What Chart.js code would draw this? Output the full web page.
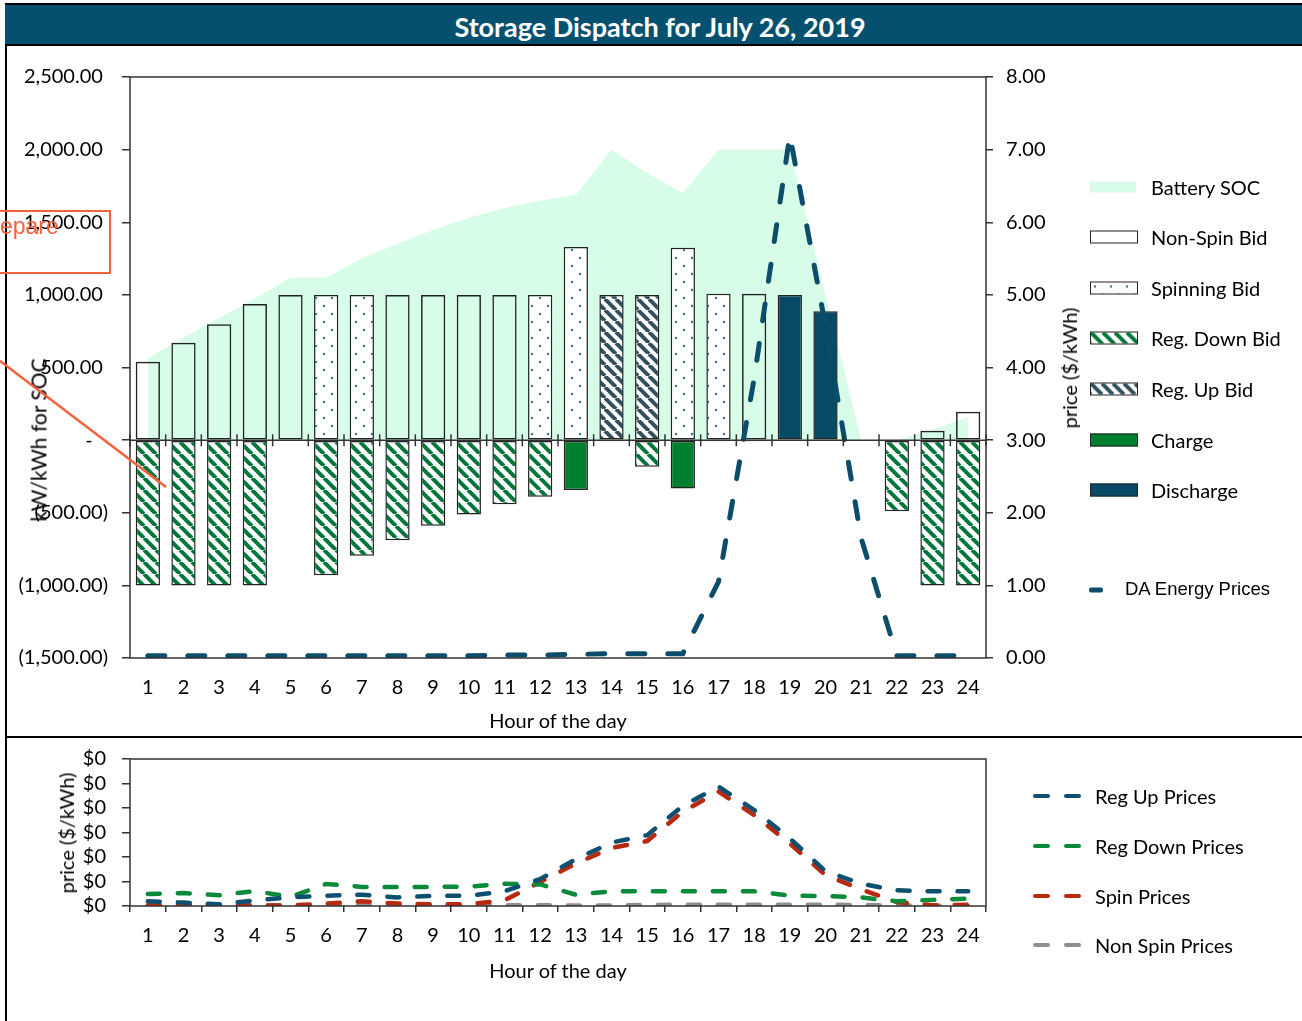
<!DOCTYPE html>
<html>
<head>
<meta charset="utf-8">
<script src="https://cdn.jsdelivr.net/npm/chart.js@4.4.0/dist/chart.umd.min.js"></script>
<style>
  body { margin: 0; background: #fff; font-family: Lato, sans-serif; }
  #page { position: relative; width: 1302px; height: 1021px; overflow: hidden; }
  #frameLeft { position: absolute; left: 5px; top: 3px; width: 2px; height: 1018px; background: #000; }
  #titleBar { position: absolute; left: 5px; top: 3px; width: 1297px; height: 39px; background: #05506f;
              border-top: 2px solid #000; border-bottom: 2px solid #000; }
  #title { position: absolute; left: 660px; top: 26px; transform: translate(-50%, -50%);
           color: #fff; font: bold 27px Lato, sans-serif; white-space: nowrap; }
  #sep { position: absolute; left: 5px; top: 736px; width: 1297px; height: 2px; background: #000; }
  canvas { position: absolute; left: 0; }
  #topChart { top: 46px; }
  #bottomChart { top: 731px; }
  .txt { position: absolute; font-size: 20px; color: #000; white-space: nowrap; transform: translateY(-50%); }
  .ctr { position: absolute; font-size: 20px; color: #000; white-space: nowrap; transform: translate(-50%, -50%); }
  .rot { position: absolute; font-size: 20px; color: #000; white-space: nowrap; transform: translate(-50%, -50%) rotate(-90deg); }
  .sw { position: absolute; left: 1090px; width: 46px; height: 11px; transform: translateY(-50%); }
  .dash { position: absolute; height: 4px; border-radius: 2px; transform: translateY(-50%); }
  #note { position: absolute; left: -3px; top: 210px; width: 110px; height: 60px; border: 2px solid #f5603c; }
  #noteText { position: absolute; left: 0; top: 226px; color: #f5603c; font: 23px "Liberation Sans", sans-serif; transform: translateY(-50%); }
  svg { position: absolute; left: 0; top: 0; }
</style>
</head>
<body>
<div id="page">
  <canvas id="topChart" width="1302" height="689"></canvas>
  <canvas id="bottomChart" width="1302" height="290"></canvas>

  <div id="frameLeft"></div>
  <div id="titleBar"></div>
  <div id="title">Storage Dispatch for July 26, 2019</div>
  <div id="sep"></div>

  <div class="rot" style="left:38px; top:440px; font-size:21px;">kW/kWh for SOC</div>
  <div class="rot" style="left:1069px; top:368px;">price ($/kWh)</div>
  <div class="ctr" style="left:558px; top:720px;">Hour of the day</div>
  <div class="rot" style="left:66px; top:833px;">price ($/kWh)</div>
  <div class="ctr" style="left:558px; top:970px;">Hour of the day</div>

  <div id="legendTop"></div>
  <div id="legendBottom"></div>

  <div id="note"></div>
  <div id="noteText">epare</div>
  <svg width="1302" height="1021"><line x1="0" y1="361" x2="166" y2="487" stroke="#f5603c" stroke-width="2.5"/></svg>
</div>

<script>
const hours = ["1","2","3","4","5","6","7","8","9","10","11","12","13","14","15","16","17","18","19","20","21","22","23","24"];

// kW / kWh (left axis)
const batterySoc = [565, 705, 840, 975, 1118, 1118, 1253, 1350, 1446, 1529, 1598, 1650, 1687, 2000, 1839, 1701, 2000, 2000, 2000, 1000, 0, 0, 70, 160];
const nonSpinBid = [540, 670, 797, 937, 1000, null, null, 1000, 1000, 1000, 1000, null, null, null, null, null, null, 1008, null, null, null, null, 64, 195];
const spinningBid = [null, null, null, null, null, 1000, 1000, null, null, null, null, 1000, 1330, null, null, 1325, 1008, null, null, null, null, null, null, null];
const regUpBid = [null, null, null, null, null, null, null, null, null, null, null, null, null, 1000, 1000, null, null, null, null, null, null, null, null, null];
const discharge = [null, null, null, null, null, null, null, null, null, null, null, null, null, null, null, null, null, null, 1000, 888, null, null, null, null];
const regDownBid = [-1000, -1000, -1000, -1000, null, -930, -796, -689, -590, -512, -441, -390, null, -8, -184, null, -8, -8, null, null, null, -489, -1000, -1000];
const charge = [null, null, null, null, null, null, null, null, null, null, null, null, -344, null, null, -333, null, null, null, null, null, null, null, null];

// $/kWh (right axis)
const daEnergyPrice = [0.03, 0.03, 0.03, 0.03, 0.03, 0.03, 0.03, 0.03, 0.03, 0.03, 0.04, 0.04, 0.05, 0.06, 0.06, 0.06, 1.05, 3.85, 7.2, 4.57, 1.65, 0.03, 0.03, 0.03];

// lower panel, $/kWh
const regUpPrice = [0.0019, 0.0014, 0.0007, 0.0023, 0.0035, 0.0042, 0.0046, 0.0035, 0.0041, 0.0042, 0.006, 0.011, 0.0191, 0.0259, 0.0289, 0.0409, 0.0487, 0.0392, 0.0276, 0.0142, 0.0091, 0.0064, 0.006, 0.006];
const regDownPrice = [0.0049, 0.0053, 0.0044, 0.0061, 0.0037, 0.009, 0.0078, 0.0078, 0.0078, 0.0079, 0.0091, 0.0088, 0.0046, 0.006, 0.006, 0.006, 0.006, 0.006, 0.0042, 0.0041, 0.0035, 0.0019, 0.0025, 0.003];
const spinPrice = [0.0002, 0.0002, 0.0002, 0.0002, 0.0002, 0.001, 0.0019, 0.001, 0.0007, 0.0007, 0.0023, 0.0098, 0.0173, 0.0237, 0.0265, 0.0385, 0.0467, 0.0371, 0.0255, 0.0126, 0.0068, 0.0016, 0.0003, 0.0005];
const nonSpinPrice = [0.0003, 0.0003, 0.0003, 0.0003, 0.0003, 0.0003, 0.0003, 0.0003, 0.0003, 0.0003, 0.0003, 0.0003, 0.0002, 0.0002, 0.0004, 0.0005, 0.0005, 0.0005, 0.0005, 0.0005, 0.0004, 0.0002, 0.0001, 0.0001];

const mint = "#d7fce8";
const teal = "#064a66";
const green = "#00802f";
const edge = "#222";

Chart.defaults.font.family = "Lato, sans-serif";
Chart.defaults.font.size = 20;
Chart.defaults.color = "#000";

function makeTile(size, draw) {
  const c = document.createElement("canvas");
  c.width = size;
  c.height = size;
  draw(c.getContext("2d"), size);
  return c;
}

const dotTile = makeTile(16, (g, s) => {
  g.fillStyle = "#fff";
  g.fillRect(0, 0, s, s);
  g.fillStyle = "#2f6f9f";
  [[4, 4], [12, 12]].forEach(([px, py]) => {
    g.beginPath();
    g.arc(px, py, 1.2, 0, Math.PI * 2);
    g.fill();
  });
});

function stripeTile(size, color, width) {
  return makeTile(size, (g, s) => {
    g.fillStyle = "#fff";
    g.fillRect(0, 0, s, s);
    g.strokeStyle = color;
    g.lineWidth = width;
    g.beginPath();
    for (let k = -1; k <= 1; k++) {
      g.moveTo(k * s, 0);
      g.lineTo(k * s + s, s);
    }
    g.stroke();
  });
}
const downTile = stripeTile(12, "#00773a", 4);
const upTile = stripeTile(11, "#34505f", 4);

const topCanvas = document.getElementById("topChart");
const tctx = topCanvas.getContext("2d");
const dotPattern = tctx.createPattern(dotTile, "repeat");
const downPattern = tctx.createPattern(downTile, "repeat");
const upPattern = tctx.createPattern(upTile, "repeat");

// plot frame drawn round the chart area
const frame = {
  id: "frame",
  afterDatasetsDraw(chart) {
    const { ctx, chartArea: a } = chart;
    ctx.save();
    ctx.strokeStyle = "#333";
    ctx.lineWidth = 1.5;
    ctx.strokeRect(a.left, a.top, a.right - a.left, a.bottom - a.top);
    ctx.restore();
  }
};

// category axis crossing at zero with cross tick marks
const zeroAxis = {
  id: "zeroAxis",
  afterDatasetsDraw(chart) {
    const { ctx, chartArea: a, scales } = chart;
    const y0 = scales.y.getPixelForValue(0);
    ctx.save();
    ctx.strokeStyle = "#333";
    ctx.lineWidth = 1.5;
    ctx.beginPath();
    ctx.moveTo(a.left, y0);
    ctx.lineTo(a.right, y0);
    for (let i = 0; i <= hours.length; i++) {
      const px = scales.x.getPixelForValue(i - 0.5);
      ctx.moveTo(px, y0 - 6);
      ctx.lineTo(px, y0 + 6);
    }
    ctx.stroke();
    ctx.restore();
  }
};

function socLabel(v) {
  if (v === 0) return "-   ";
  const s = Math.abs(v).toLocaleString("en-US", { minimumFractionDigits: 2, maximumFractionDigits: 2 });
  return v < 0 ? "(" + s + ")" : s + " ";
}

const barBase = {
  type: "bar",
  borderColor: edge,
  borderWidth: 1.5,
  borderSkipped: false,
  barPercentage: 0.68,
  categoryPercentage: 1,
  order: 2
};

new Chart(tctx, {
  type: "bar",
  data: {
    labels: hours,
    datasets: [
      { type: "line", label: "Battery SOC", data: batterySoc, stack: "soc", fill: "origin",
        backgroundColor: mint, borderWidth: 0, pointRadius: 0, order: 3 },
      { ...barBase, label: "Non-Spin Bid", data: nonSpinBid, backgroundColor: "rgba(0,0,0,0)" },
      { ...barBase, label: "Spinning Bid", data: spinningBid, backgroundColor: dotPattern },
      { ...barBase, label: "Reg. Down Bid", data: regDownBid, backgroundColor: downPattern },
      { ...barBase, label: "Reg. Up Bid", data: regUpBid, backgroundColor: upPattern },
      { ...barBase, label: "Charge", data: charge, backgroundColor: green },
      { ...barBase, label: "Discharge", data: discharge, backgroundColor: teal },
      { type: "line", label: "DA Energy Prices", data: daEnergyPrice, yAxisID: "y1", stack: "price",
        borderColor: "#0b4d6b", borderWidth: 5, borderDash: [17, 23], borderCapStyle: "round",
        pointRadius: 0, tension: 0, fill: false, order: 1 }
    ]
  },
  options: {
    responsive: false,
    animation: false,
    events: [],
    layout: { padding: { top: 31, left: 0, right: 0, bottom: 0 } },
    plugins: { legend: { display: false }, tooltip: { enabled: false } },
    scales: {
      x: {
        stacked: true,
        grid: { display: false, drawTicks: false },
        border: { display: false },
        ticks: { padding: 18, maxRotation: 0, autoSkip: false },
        afterFit: s => { s.height = 77; }
      },
      y: {
        stacked: true,
        min: -1500,
        max: 2500,
        ticks: { stepSize: 500, padding: 14, autoSkip: false, callback: v => socLabel(v) },
        grid: { drawOnChartArea: false, tickLength: 8, color: "#333", lineWidth: 1.5 },
        border: { display: false },
        afterFit: s => { s.width = 130; }
      },
      y1: {
        position: "right",
        min: 0,
        max: 8,
        ticks: { stepSize: 1, padding: 13, autoSkip: false, callback: v => v.toFixed(2) },
        grid: { drawOnChartArea: false, tickLength: 7, color: "#333", lineWidth: 1.5 },
        border: { display: false },
        afterFit: s => { s.width = 316; }
      }
    }
  },
  plugins: [frame, zeroAxis]
});

const priceLine = (label, data, color) => ({
  label, data, borderColor: color, borderWidth: 4.5, borderDash: [12, 18], borderCapStyle: "round",
  pointRadius: 0, tension: 0, fill: false
});

new Chart(document.getElementById("bottomChart"), {
  type: "line",
  data: {
    labels: hours,
    datasets: [
      priceLine("Reg Up Prices", regUpPrice, "#0d5070"),
      priceLine("Reg Down Prices", regDownPrice, "#0b8a3a"),
      priceLine("Spin Prices", spinPrice, "#b8290f"),
      priceLine("Non Spin Prices", nonSpinPrice, "#8f8f8f")
    ]
  },
  options: {
    responsive: false,
    animation: false,
    events: [],
    layout: { padding: { top: 28, left: 0, right: 316, bottom: 0 } },
    plugins: { legend: { display: false }, tooltip: { enabled: false } },
    scales: {
      x: {
        offset: true,
        grid: { offset: true, drawOnChartArea: false, tickLength: 6, color: "#333", lineWidth: 1.5 },
        border: { display: false },
        ticks: { padding: 12, maxRotation: 0, autoSkip: false },
        afterFit: s => { s.height = 115; }
      },
      y: {
        min: 0,
        max: 0.06,
        ticks: { stepSize: 0.01, padding: 16, autoSkip: false, callback: v => "$" + v.toFixed(0) },
        grid: { drawOnChartArea: false, tickLength: 8, color: "#333", lineWidth: 1.5 },
        border: { display: false },
        afterFit: s => { s.width = 130; }
      }
    }
  },
  plugins: [frame]
});

// legends
const topItems = [
  { label: "Battery SOC", css: { background: mint } },
  { label: "Non-Spin Bid", css: { background: "#fff", border: "1.5px solid " + edge } },
  { label: "Spinning Bid", css: { backgroundImage: "url(" + dotTile.toDataURL() + ")", border: "1.5px solid " + edge } },
  { label: "Reg. Down Bid", css: { backgroundImage: "url(" + downTile.toDataURL() + ")", border: "1.5px solid " + edge } },
  { label: "Reg. Up Bid", css: { backgroundImage: "url(" + upTile.toDataURL() + ")", border: "1.5px solid " + edge } },
  { label: "Charge", css: { background: green, border: "1.5px solid " + edge } },
  { label: "Discharge", css: { background: teal, border: "1.5px solid " + edge } }
];
const topRows = [187, 237, 288, 338, 389, 440, 490];
const legendTop = document.getElementById("legendTop");
topItems.forEach((item, i) => {
  const sw = document.createElement("div");
  sw.className = "sw";
  sw.style.top = topRows[i] + "px";
  Object.assign(sw.style, item.css);
  legendTop.appendChild(sw);
  const t = document.createElement("div");
  t.className = "txt";
  t.style.left = "1151px";
  t.style.top = topRows[i] + "px";
  t.textContent = item.label;
  legendTop.appendChild(t);
});
const daSw = document.createElement("div");
daSw.className = "dash";
Object.assign(daSw.style, { left: "1089px", top: "590px", width: "14px", height: "5px", background: "#0b4d6b" });
legendTop.appendChild(daSw);
const daTxt = document.createElement("div");
daTxt.className = "txt";
Object.assign(daTxt.style, { left: "1125px", top: "589px", font: "18.5px 'Liberation Sans', sans-serif" });
daTxt.textContent = "DA Energy Prices";
legendTop.appendChild(daTxt);

const bottomItems = [
  ["Reg Up Prices", "#0d5070"],
  ["Reg Down Prices", "#0b8a3a"],
  ["Spin Prices", "#b8290f"],
  ["Non Spin Prices", "#8f8f8f"]
];
const bottomRows = [796, 846, 896, 945];
const legendBottom = document.getElementById("legendBottom");
bottomItems.forEach(([label, color], i) => {
  [1033, 1064].forEach(x => {
    const d = document.createElement("div");
    d.className = "dash";
    Object.assign(d.style, { left: x + "px", top: bottomRows[i] + "px", width: "17px", background: color });
    legendBottom.appendChild(d);
  });
  const t = document.createElement("div");
  t.className = "txt";
  t.style.left = "1095px";
  t.style.top = bottomRows[i] + "px";
  t.textContent = label;
  legendBottom.appendChild(t);
});
</script>
</body>
</html>
